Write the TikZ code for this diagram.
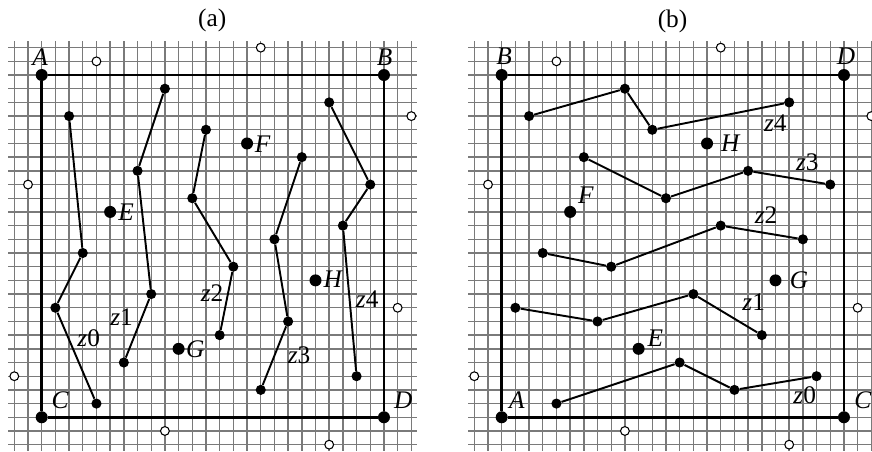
\documentclass[tikz,border=0pt]{standalone}
\usepackage{fontspec}
\setmainfont{Liberation Serif}
\begin{document}
\begin{tikzpicture}[x=10.27pt,y=10.27pt,
  gridline/.style={draw=black!52, line width=1.05pt},
  frameline/.style={line width=2pt},
  chainline/.style={line width=1.45pt},
  cornerdot/.style={circle, fill=black, inner sep=0pt, minimum size=9pt},
  namedot/.style={circle, fill=black, inner sep=0pt, minimum size=9pt},
  chaindot/.style={circle, fill=black, inner sep=0pt, minimum size=7.6pt},
  opendot/.style={circle, draw=black, line width=0.8pt, fill=white, inner sep=0pt, minimum size=6.6pt},
  letter/.style={font=\fontsize{19}{19}\selectfont\itshape, inner sep=0pt},
  zlabel/.style={font=\fontsize{19}{19}\selectfont, inner sep=0pt},
  paneltitle/.style={font=\fontsize{19}{19}\selectfont, inner sep=0pt}]
\useasboundingbox (-3.046,-2.535) rectangle (60.65,30.48);
\clip (-3.046,-2.535) rectangle (60.65,30.48);

% ================= panel (a) =================
\begin{scope}
  \foreach \i in {-2,...,27} {
    \draw[gridline] (\i,-2.45) -- (\i,27.45);
    \draw[gridline] (-2.45,\i) -- (27.45,\i);
  }
  \node[paneltitle] (ta) at (12.45,29.02) {(a)};
  % corners
  \node[cornerdot] (aA) at (0,25) {};
  \node[cornerdot] (aB) at (25,25) {};
  \node[cornerdot] (aC) at (0,0) {};
  \node[cornerdot] (aD) at (25,0) {};
  \draw[frameline] (aA) -- (aB) -- (aD) -- (aC) -- (aA);
  \node[letter] (laA) at (-0.12,26.34) {A};
  \node[letter] (laB) at (25.05,26.32) {B};
  \node[letter] (laC) at (1.34,1.24) {C};
  \node[letter] (laD) at (26.41,1.26) {D};
  % named points
  \node[namedot] (aE) at (5,15) {};
  \node[namedot] (aF) at (15,20) {};
  \node[namedot] (aG) at (10,5) {};
  \node[namedot] (aH) at (20,10) {};
  \node[letter] (laE) at (6.16,14.95) {E};
  \node[letter] (laF) at (16.14,19.96) {F};
  \node[letter] (laG) at (11.22,4.97) {G};
  \node[letter] (laH) at (21.26,10.05) {H};
  % open circles
  \node[opendot] (ao1) at (4,26) {};
  \node[opendot] (ao2) at (16,27) {};
  \node[opendot] (ao3) at (27,22) {};
  \node[opendot] (ao4) at (-1,17) {};
  \node[opendot] (ao5) at (-2,3) {};
  \node[opendot] (ao6) at (9,-1) {};
  \node[opendot] (ao7) at (26,8) {};
  \node[opendot] (ao8) at (21,-2) {};
  % chains
  \node[chaindot] (a00) at (2,22) {};
  \node[chaindot] (a01) at (3,12) {};
  \node[chaindot] (a02) at (1,8) {};
  \node[chaindot] (a03) at (4,1) {};
  \node[chaindot] (a10) at (9,24) {};
  \node[chaindot] (a11) at (7,18) {};
  \node[chaindot] (a12) at (8,9) {};
  \node[chaindot] (a13) at (6,4) {};
  \node[chaindot] (a20) at (12,21) {};
  \node[chaindot] (a21) at (11,16) {};
  \node[chaindot] (a22) at (14,11) {};
  \node[chaindot] (a23) at (13,6) {};
  \node[chaindot] (a30) at (19,19) {};
  \node[chaindot] (a31) at (17,13) {};
  \node[chaindot] (a32) at (18,7) {};
  \node[chaindot] (a33) at (16,2) {};
  \node[chaindot] (a40) at (21,23) {};
  \node[chaindot] (a41) at (24,17) {};
  \node[chaindot] (a42) at (22,14) {};
  \node[chaindot] (a43) at (23,3) {};
  \draw[chainline] (a00) -- (a01) -- (a02) -- (a03);
  \draw[chainline] (a10) -- (a11) -- (a12) -- (a13);
  \draw[chainline] (a20) -- (a21) -- (a22) -- (a23);
  \draw[chainline] (a30) -- (a31) -- (a32) -- (a33);
  \draw[chainline] (a40) -- (a41) -- (a42) -- (a43);
  \node[zlabel] (az0) at (3.43,5.77) {\textit{z}0};
  \node[zlabel] (az1) at (5.84,7.35) {\textit{z}1};
  \node[zlabel] (az2) at (12.45,9.1) {\textit{z}2};
  \node[zlabel] (az3) at (18.8,4.53) {\textit{z}3};
  \node[zlabel] (az4) at (23.78,8.6) {\textit{z}4};
\end{scope}

% ================= panel (b) =================
\begin{scope}[shift={(33.6,0)}]
  \foreach \i in {-2,...,27} {
    \draw[gridline] (\i,-2.45) -- (\i,27.45);
    \draw[gridline] (-2.45,\i) -- (27.45,\i);
  }
  \node[paneltitle] (tb) at (12.48,28.95) {(b)};
  % corners
  \node[cornerdot] (bB) at (0,25) {};
  \node[cornerdot] (bD) at (25,25) {};
  \node[cornerdot] (bA) at (0,0) {};
  \node[cornerdot] (bC) at (25,0) {};
  \draw[frameline] (bB) -- (bD) -- (bC) -- (bA) -- (bB);
  \node[letter] (lbB) at (0.17,26.34) {B};
  \node[letter] (lbD) at (25.15,26.39) {D};
  \node[letter] (lbA) at (1.1,1.26) {A};
  \node[letter] (lbC) at (26.37,1.24) {C};
  % named points
  \node[namedot] (bE) at (10,5) {};
  \node[namedot] (bF) at (5,15) {};
  \node[namedot] (bG) at (20,10) {};
  \node[namedot] (bH) at (15,20) {};
  \node[letter] (lbE) at (11.23,5.74) {E};
  \node[letter] (lbF) at (6.14,16.24) {F};
  \node[letter] (lbG) at (21.72,10.03) {G};
  \node[letter] (lbH) at (16.7,20.01) {H};
  % open circles
  \node[opendot] (bo1) at (4,26) {};
  \node[opendot] (bo2) at (16,27) {};
  \node[opendot] (bo3) at (27,22) {};
  \node[opendot] (bo4) at (-1,17) {};
  \node[opendot] (bo5) at (-2,3) {};
  \node[opendot] (bo6) at (9,-1) {};
  \node[opendot] (bo7) at (26,8) {};
  \node[opendot] (bo8) at (21,-2) {};
  % chains
  \node[chaindot] (b40) at (2,22) {};
  \node[chaindot] (b41) at (9,24) {};
  \node[chaindot] (b42) at (11,21) {};
  \node[chaindot] (b43) at (21,23) {};
  \node[chaindot] (b30) at (6,19) {};
  \node[chaindot] (b31) at (12,16) {};
  \node[chaindot] (b32) at (18,18) {};
  \node[chaindot] (b33) at (24,17) {};
  \node[chaindot] (b20) at (3,12) {};
  \node[chaindot] (b21) at (8,11) {};
  \node[chaindot] (b22) at (16,14) {};
  \node[chaindot] (b23) at (22,13) {};
  \node[chaindot] (b10) at (1,8) {};
  \node[chaindot] (b11) at (7,7) {};
  \node[chaindot] (b12) at (14,9) {};
  \node[chaindot] (b13) at (19,6) {};
  \node[chaindot] (b00) at (4,1) {};
  \node[chaindot] (b01) at (13,4) {};
  \node[chaindot] (b02) at (17,2) {};
  \node[chaindot] (b03) at (23,3) {};
  \draw[chainline] (b00) -- (b01) -- (b02) -- (b03);
  \draw[chainline] (b10) -- (b11) -- (b12) -- (b13);
  \draw[chainline] (b20) -- (b21) -- (b22) -- (b23);
  \draw[chainline] (b30) -- (b31) -- (b32) -- (b33);
  \draw[chainline] (b40) -- (b41) -- (b42) -- (b43);
  \node[zlabel] (bz0) at (22.13,1.63) {\textit{z}0};
  \node[zlabel] (bz1) at (18.41,8.4) {\textit{z}1};
  \node[zlabel] (bz2) at (19.31,14.78) {\textit{z}2};
  \node[zlabel] (bz3) at (22.32,18.6) {\textit{z}3};
  \node[zlabel] (bz4) at (19.99,21.47) {\textit{z}4};
\end{scope}
\end{tikzpicture}
\end{document}
